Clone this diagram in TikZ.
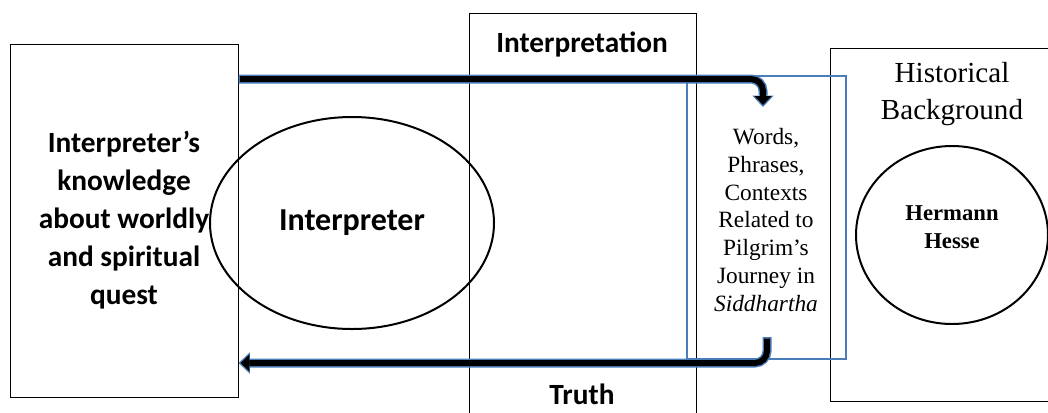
\documentclass[tikz,border=0pt]{standalone}
\usepackage{fontspec}
\setmainfont{Liberation Serif}
\newfontfamily\calibri[Ligatures=TeX]{Carlito}
\usetikzlibrary{positioning,arrows.meta,shapes.geometric}
\definecolor{rimblue}{RGB}{74,126,187}

\begin{document}
\begin{tikzpicture}[
				x=0.75pt, y=-0.75pt,
				box/.style = {draw, line width=0.75pt, inner sep=0pt},
				loop/.style = {draw, ellipse, line width=1.5pt, inner sep=0pt},
				sans/.style = {font=\calibri\bfseries\fontsize{22}{28.5}\selectfont, align=center},
				serif/.style = {align=center},
				rim/.style = {draw=rimblue, line width=6.75pt, rounded corners=9pt,
					-{Triangle[length=8.5pt, width=16pt, line width=0pt]}},
				core/.style = {draw=black, line width=4.5pt, rounded corners=9pt,
					shorten <=1.2pt, shorten >=1.6pt,
					-{Triangle[length=6.5pt, width=12.5pt, line width=0pt]}}
			]
			\useasboundingbox (0,0) rectangle (1048,412);
			\clip (0,0) rectangle (1048,412);
			% the three columns
			\node[box, sans, minimum width=171pt, minimum height=264.75pt] (know) at (124,220.5)
				{Interpreter’s\\knowledge\\about worldly\\and spiritual\\quest};
			\draw[line width=0.75pt] (469,415) |- (696,13) -- (696,415);
			\node[sans] (interp) at (582,44) {Interpretation};
			\node[sans] (truth) at (582,394) {Truth};
			\draw[line width=0.75pt] (1052,48) -| (830,401) -- (1052,401);
			\node[serif, font=\fontsize{21.8}{27.7}\selectfont] (hist) at (952,94) {Historical\\Background};
			% circles
			\node[loop, sans, font=\calibri\bfseries\fontsize{24}{28}\selectfont,
				minimum width=213pt, minimum height=159pt] (reader) at (352,223) {Interpreter};
			\node[loop, minimum width=144pt, minimum height=133.5pt] (hesse) at (952,235) {};
			\node[serif, font=\bfseries\fontsize{17}{21}\selectfont] (name) at (952,227) {Hermann\\Hesse};
			% the text in the blue frame
			\node[draw=rimblue, line width=1.5pt, minimum width=119.25pt, minimum height=212.25pt] (frame) at (766.5,217.5) {};
			\node[serif, font=\fontsize{17.5}{20.8}\selectfont] (words) at (766,220)
				{Words,\\Phrases,\\Contexts\\Related to\\Pilgrim's\\Journey in\\\textit{Siddhartha}};
			\coordinate (in) at (763,107);
			\coordinate (back) at (767,337);
			\coordinate (out) at (know.east |- 0,363);
			% arrows
			\draw[rim] (know.east |- 0,79) -| (in);
			\draw[core] (know.east |- 0,79) -| (in);
			\draw[rim] (back) |- (out);
			\draw[core] (back) |- (out);
		\end{tikzpicture}
\end{document}
